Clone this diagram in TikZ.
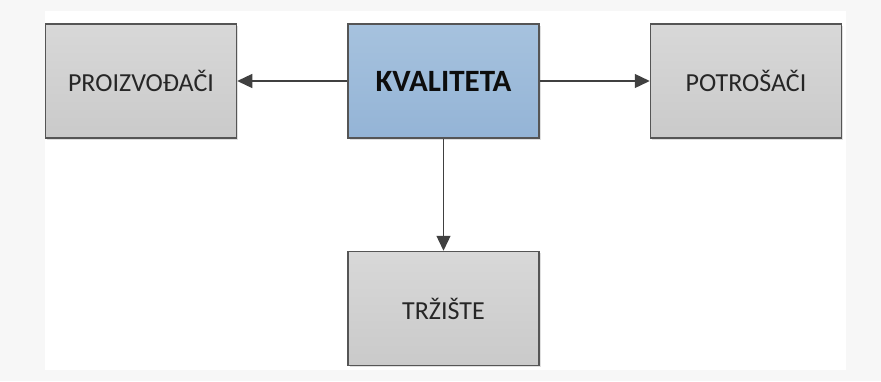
\documentclass[tikz,border=0pt]{standalone}
\usepackage{fontspec}
\setmainfont{Carlito}
\usetikzlibrary{arrows.meta,shadows}
\definecolor{bgout}{HTML}{F7F7F7}
\definecolor{boxedge}{HTML}{555555}
\definecolor{arrowc}{HTML}{404040}
\tikzset{
  graybox/.style={draw=boxedge, line width=1.5pt, top color={rgb,255:red,216;green,216;blue,216}, bottom color={rgb,255:red,202;green,202;blue,202},
    drop shadow={shadow xshift=1.5pt, shadow yshift=-1.5pt, opacity=0.25},
    minimum width=191pt, minimum height=114pt, inner sep=0pt, font=\fontsize{26}{30}\selectfont, text=black!85},
  bluebox/.style={graybox, top color={rgb,255:red,166;green,194;blue,222}, bottom color={rgb,255:red,148;green,180;blue,214},
    font=\fontsize{31}{34}\selectfont\bfseries, text=black!95},
  conn/.style={draw=arrowc, line width=1.3pt, -{Triangle[length=15pt,width=14pt]}}
}
\begin{document}
\begin{tikzpicture}[x=1pt,y=-1pt]
\useasboundingbox (0,0) rectangle (881,381);
\fill[bgout] (0,0) rectangle (881,381);
\fill[white] (45,11) rectangle (846,370);
\node[graybox] (prod) at (141,81) {PROIZVOĐAČI};
\node[bluebox] (kval) at (443.5,81) {KVALITETA};
\node[graybox] (potr) at (746,81) {POTROŠAČI};
\node[graybox] (trz) at (443.5,308.5) {TRŽIŠTE};
\draw[conn] (kval) -- (prod);
\draw[conn] (kval) -- (potr);
\draw[conn] (kval) -- (trz);
\end{tikzpicture}
\end{document}
